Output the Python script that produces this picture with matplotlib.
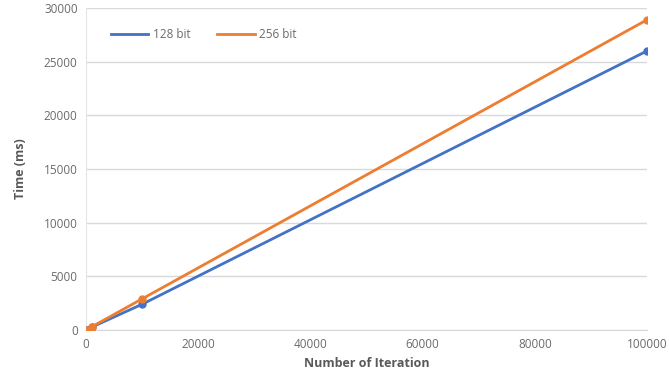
import matplotlib
matplotlib.use("Agg")
import matplotlib.pyplot as plt

iterations = [100, 1000, 10000, 100000]
time_128 = [30, 260, 2400, 26000]
time_256 = [35, 290, 2900, 28900]
series_names = ["128 bit", "256 bit"]

plt.rcParams['font.family'] = ['Open Sans', 'DejaVu Sans']

fig = plt.figure(figsize=(6.69, 3.84), dpi=100)
ax = fig.add_axes([86 / 669, 1 - 330 / 384, (647 - 86) / 669, (330 - 8) / 384])

blue = "#4472C4"
orange = "#ED7D31"
ax.plot(iterations, time_128, color=blue, lw=2, marker="o", ms=5, label=series_names[0], zorder=3)
ax.plot(iterations, time_256, color=orange, lw=2, marker="o", ms=5, label=series_names[1], zorder=3)

ax.set_xlim(0, 100000)
ax.set_ylim(0, 30000)
ax.set_xticks(range(0, 100001, 20000))
ax.set_yticks(range(0, 30001, 5000))
ax.grid(axis="y", color="#d9d9d9", lw=1)
ax.set_axisbelow(True)
for s in ["top", "right"]:
    ax.spines[s].set_visible(False)
ax.spines["left"].set_color("#e6e6e6")
ax.spines["bottom"].set_color("#d9d9d9")
ax.tick_params(length=0, labelsize=8.5, colors="#6b6b6b", pad=6)

ax.set_xlabel("Number of Iteration", fontsize=9, fontweight="bold", color="#595959", labelpad=4)
ax.set_ylabel("Time (ms)", fontsize=9, fontweight="bold", color="#595959", labelpad=12)

handles = [plt.Line2D([], [], color=blue, lw=2), plt.Line2D([], [], color=orange, lw=2)]
ax.legend(handles, series_names, loc="upper left", bbox_to_anchor=(0.025, 0.97), ncol=2,
          frameon=False, fontsize=8.5, labelcolor="#6b6b6b", handlelength=3.2,
          columnspacing=2.2, handletextpad=0.4)

fig.savefig("out.png", dpi=100)
